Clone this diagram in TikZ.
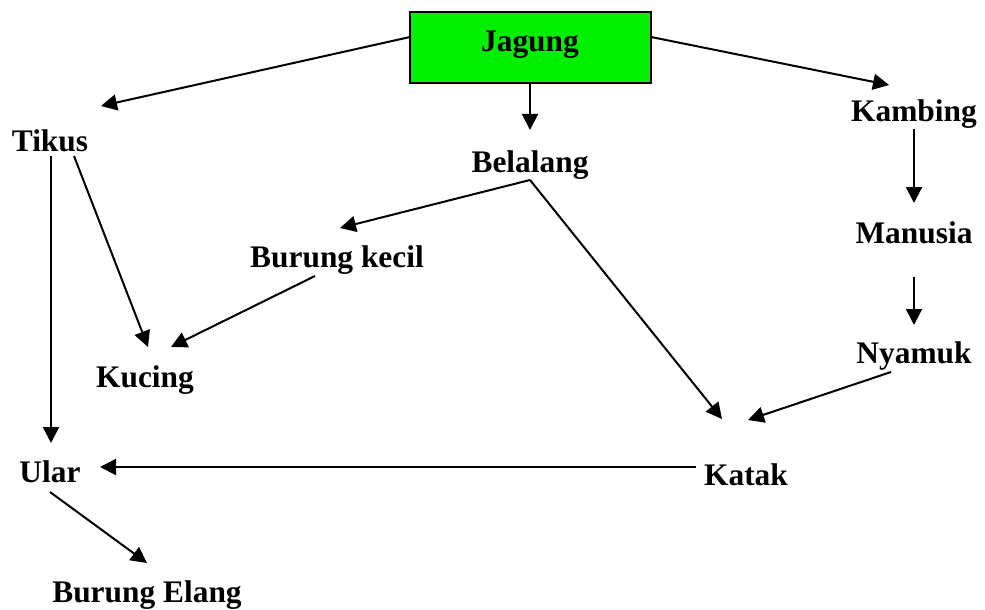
\documentclass[tikz,border=0pt]{standalone}
\usepackage{fontspec}
\setmainfont{Liberation Serif}
\usetikzlibrary{arrows.meta}

\definecolor{cornGreen}{RGB}{0,240,0}

\begin{document}
\begin{tikzpicture}[x=0.5pt,y=-0.5pt]
    \tikzstyle{animal}=[inner sep=0pt,anchor=base,font=\fontsize{15.7}{18}\selectfont\bfseries]
    \tikzstyle{food}=[-{Triangle[length=8pt,width=8pt]},line width=1pt]

    \useasboundingbox (0,0) rectangle (985,610);

    \draw[line width=1pt,fill=cornGreen] (410,12) rectangle (651,83);
    \node (jagung)[animal] at (530,52) {Jagung};

    \node (tikus)[animal] at (50,152) {Tikus};
    \node (belalang)[animal] at (530,172) {Belalang};
    \node (kambing)[animal] at (914,122) {Kambing};
    \node (manusia)[animal] at (914,243) {Manusia};
    \node (burungkecil)[animal] at (337,267) {Burung kecil};
    \node (nyamuk)[animal] at (914,363) {Nyamuk};
    \node (kucing)[animal] at (145,387) {Kucing};
    \node (ular)[animal] at (50,482) {Ular};
    \node (katak)[animal] at (746,485) {Katak};
    \node (elang)[animal] at (147,602) {Burung Elang};

    % arrow ends
    \coordinate (jagung-w) at (410,37);
    \coordinate (jagung-s) at (530,83);
    \coordinate (jagung-e) at (651,37);
    \coordinate (tikus-in) at (101,106);
    \coordinate (belalang-in) at (530,130);
    \coordinate (kambing-in) at (889,85);
    \coordinate (kambing-out) at (914,129);
    \coordinate (manusia-in) at (914,203);
    \coordinate (manusia-out) at (914,277);
    \coordinate (nyamuk-in) at (914,325);
    \coordinate (nyamuk-out) at (891,372);
    \coordinate (belalang-out) at (530,180);
    \coordinate (burungkecil-in) at (340,228);
    \coordinate (burungkecil-out) at (315,276);
    \coordinate (tikus-out) at (51,156);
    \coordinate (tikus-out2) at (74,156);
    \coordinate (kucing-in) at (148,347);
    \coordinate (kucing-in2) at (171,347);
    \coordinate (katak-in) at (722,419);
    \coordinate (katak-in2) at (748,420);
    \coordinate (katak-out) at (696,467);
    \coordinate (ular-in) at (51,443);
    \coordinate (ular-in2) at (100,467);
    \coordinate (ular-out) at (50,492);
    \coordinate (elang-in) at (147,563);

    \draw[food] (jagung-w) -- (tikus-in);
    \draw[food] (jagung-s) -- (belalang-in);
    \draw[food] (jagung-e) -- (kambing-in);
    \draw[food] (kambing-out) -- (manusia-in);
    \draw[food] (manusia-out) -- (nyamuk-in);
    \draw[food] (nyamuk-out) -- (katak-in2);
    \draw[food] (belalang-out) -- (katak-in);
    \draw[food] (belalang-out) -- (burungkecil-in);
    \draw[food] (burungkecil-out) -- (kucing-in2);
    \draw[food] (tikus-out2) -- (kucing-in);
    \draw[food] (tikus-out) -- (ular-in);
    \draw[food] (katak-out) -- (ular-in2);
    \draw[food] (ular-out) -- (elang-in);
\end{tikzpicture}
\end{document}
